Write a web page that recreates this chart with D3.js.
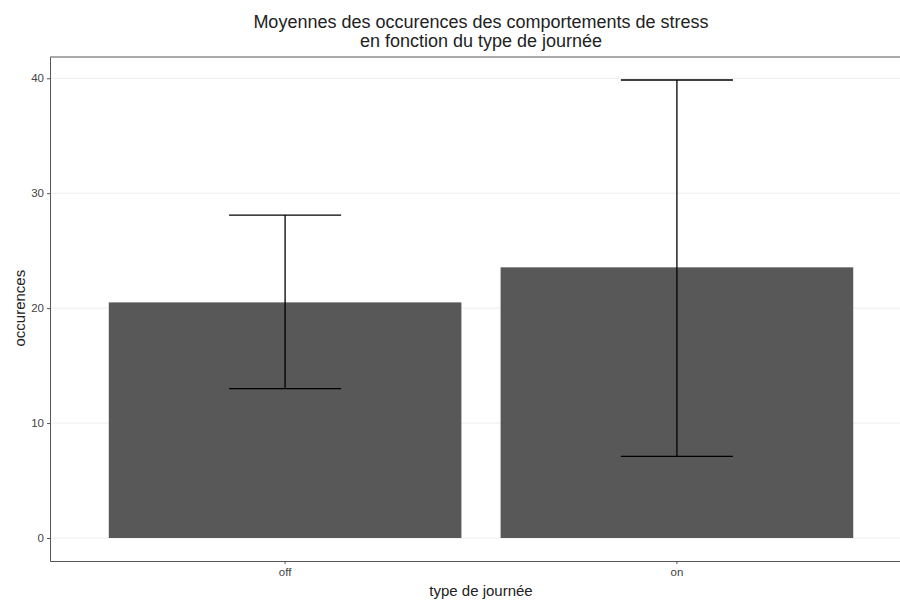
<!DOCTYPE html>
<html>
<head>
<meta charset="utf-8">
<script src="https://cdn.jsdelivr.net/npm/d3@7"></script>
<style>
html, body { margin: 0; background: #fff; overflow: hidden; }
svg { display: block; }
text { font-family: "Liberation Sans", Arial, sans-serif; }
</style>
</head>
<body>
<div id="container"></div>
<script>
// data
const categories = ["off", "on"];
const means = [20.5, 23.55];
const lower = [13.0, 7.1];
const upper = [28.1, 39.85];
const yTicks = [0, 10, 20, 30, 40];

const width = 900, height = 601;
const margin = {top: 57, right: -12, bottom: 40, left: 50};

const svg = d3.select('#container')
    .append("svg")
    .attr("width", width)
    .attr("height", height);

const x = d3.scaleBand()
    .domain(categories)
    .range([margin.left, width - margin.right])
    .paddingInner(0.1)
    .paddingOuter(0.15);

const y = d3.scaleLinear()
    .domain([-2.0, 41.85])
    .range([height - margin.bottom, margin.top]);

// faint grid
svg.append("g")
    .selectAll("line")
    .data(yTicks)
    .enter()
    .append("line")
    .attr("x1", margin.left)
    .attr("x2", width)
    .attr("y1", d => y(d))
    .attr("y2", d => y(d))
    .attr("stroke", "#eeeeee")
    .attr("stroke-width", 1);

// bars
svg.selectAll(".bar")
    .data(categories)
    .enter()
    .append("rect")
    .attr("class", "bar")
    .attr("x", d => x(d))
    .attr("width", x.bandwidth())
    .attr("y", (d, i) => y(means[i]))
    .attr("height", (d, i) => y(0) - y(means[i]))
    .attr("fill", "#585858");

// error bars
const capHalf = x.step() * 0.143;
const eb = svg.selectAll(".err")
    .data(categories)
    .enter()
    .append("g")
    .attr("class", "err")
    .attr("stroke", "#000")
    .attr("stroke-width", 1.3);

eb.append("line")
    .attr("x1", d => x(d) + x.bandwidth() / 2)
    .attr("x2", d => x(d) + x.bandwidth() / 2)
    .attr("y1", (d, i) => y(lower[i]))
    .attr("y2", (d, i) => y(upper[i]));
eb.append("line")
    .attr("x1", d => x(d) + x.bandwidth() / 2 - capHalf)
    .attr("x2", d => x(d) + x.bandwidth() / 2 + capHalf)
    .attr("y1", (d, i) => y(upper[i]))
    .attr("y2", (d, i) => y(upper[i]));
eb.append("line")
    .attr("x1", d => x(d) + x.bandwidth() / 2 - capHalf)
    .attr("x2", d => x(d) + x.bandwidth() / 2 + capHalf)
    .attr("y1", (d, i) => y(lower[i]))
    .attr("y2", (d, i) => y(lower[i]));

// panel frame top line
svg.append("line")
    .attr("x1", margin.left).attr("x2", width)
    .attr("y1", margin.top).attr("y2", margin.top)
    .attr("stroke", "#555").attr("stroke-width", 1);

// axes
const yAxis = svg.append("g")
    .attr("transform", "translate(" + margin.left + ",0)")
    .call(d3.axisLeft(y).tickValues(yTicks).tickSize(3).tickSizeOuter(0).tickPadding(3));
const xAxis = svg.append("g")
    .attr("transform", "translate(0," + (height - margin.bottom) + ")")
    .call(d3.axisBottom(x).tickSize(3).tickSizeOuter(0).tickPadding(4));

[yAxis, xAxis].forEach(a => {
    a.select(".domain").attr("stroke", "#555");
    a.selectAll(".tick line").attr("stroke", "#555");
    a.selectAll(".tick text").attr("fill", "#444").style("font-size", "11.5px");
});

// titles
const cx = (margin.left + width - margin.right) / 2;
svg.append("text")
    .attr("x", cx).attr("y", 28)
    .attr("text-anchor", "middle")
    .style("font-size", "18px")
    .attr("fill", "#222")
    .text("Moyennes des occurences des comportements de stress");
svg.append("text")
    .attr("x", cx).attr("y", 47)
    .attr("text-anchor", "middle")
    .style("font-size", "18px")
    .attr("fill", "#222")
    .text("en fonction du type de journée");

svg.append("text")
    .attr("x", cx).attr("y", 596)
    .attr("text-anchor", "middle")
    .style("font-size", "15px")
    .attr("fill", "#222")
    .text("type de journée");

svg.append("text")
    .attr("transform", "translate(25," + y(20) + ") rotate(-90)")
    .attr("text-anchor", "middle")
    .style("font-size", "15px")
    .attr("fill", "#222")
    .text("occurences");
</script>
</body>
</html>
